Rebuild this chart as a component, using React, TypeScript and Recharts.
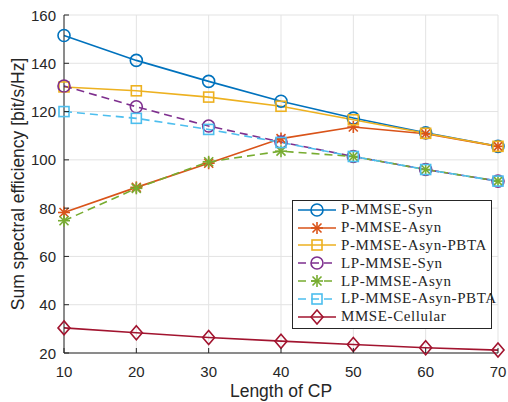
import React from "react";
import {
  LineChart,
  Line,
  XAxis,
  YAxis,
  CartesianGrid,
  Legend,
} from "recharts";

const cpLengths = [10, 20, 30, 40, 50, 60, 70];
const yTicks = [20, 40, 60, 80, 100, 120, 140, 160];

const pMmseSyn = [151.5, 141.2, 132.5, 124.3, 117.3, 111.2, 105.6];
const pMmseAsyn = [78.2, 88.6, 98.6, 108.8, 113.6, 110.8, 105.6];
const pMmsePbta = [130.2, 128.6, 126.0, 122.2, 116.6, 111.0, 105.6];
const lpMmseSyn = [130.6, 122.0, 114.0, 107.4, 101.4, 96.0, 91.2];
const lpMmseAsyn = [74.8, 88.2, 99.2, 103.6, 101.4, 96.0, 91.2];
const lpMmsePbta = [120.0, 117.2, 112.6, 107.2, 101.4, 96.0, 91.2];
const mmseCellular = [30.4, 28.4, 26.4, 24.9, 23.5, 22.2, 21.2];

type Marker = "circle" | "star" | "square" | "diamond";

const series = [
  { key: "pSyn", name: "P-MMSE-Syn", values: pMmseSyn, color: "#0072BD", dashed: false, marker: "circle" as Marker },
  { key: "pAsyn", name: "P-MMSE-Asyn", values: pMmseAsyn, color: "#D95319", dashed: false, marker: "star" as Marker },
  { key: "pPbta", name: "P-MMSE-Asyn-PBTA", values: pMmsePbta, color: "#EDB120", dashed: false, marker: "square" as Marker },
  { key: "lpSyn", name: "LP-MMSE-Syn", values: lpMmseSyn, color: "#7E2F8E", dashed: true, marker: "circle" as Marker },
  { key: "lpAsyn", name: "LP-MMSE-Asyn", values: lpMmseAsyn, color: "#77AC30", dashed: true, marker: "star" as Marker },
  { key: "lpPbta", name: "LP-MMSE-Asyn-PBTA", values: lpMmsePbta, color: "#4DBEEE", dashed: true, marker: "square" as Marker },
  { key: "cell", name: "MMSE-Cellular", values: mmseCellular, color: "#A2142F", dashed: false, marker: "diamond" as Marker },
];

const data = cpLengths.map((cp, i) => {
  const row: Record<string, number> = { cp };
  series.forEach((s) => (row[s.key] = s.values[i]));
  return row;
});

const AXIS = "#262626";
const SANS = "'Liberation Sans', Arial, sans-serif";
const SERIF = "'Liberation Serif', 'DejaVu Serif', serif";

function MarkerShape({ cx, cy, shape, color }: { cx: number; cy: number; shape: Marker; color: string }) {
  const r = 6;
  if (shape === "circle")
    return <circle cx={cx} cy={cy} r={r} fill="none" stroke={color} strokeWidth={1.6} />;
  if (shape === "square")
    return <rect x={cx - 5} y={cy - 5} width={10} height={10} fill="none" stroke={color} strokeWidth={1.6} />;
  if (shape === "diamond")
    return (
      <path
        d={`M${cx},${cy - 7} L${cx + 6},${cy} L${cx},${cy + 7} L${cx - 6},${cy} Z`}
        fill="none"
        stroke={color}
        strokeWidth={1.6}
      />
    );
  const d = 4.5;
  return (
    <g stroke={color} strokeWidth={1.6}>
      <line x1={cx - r} y1={cy} x2={cx + r} y2={cy} />
      <line x1={cx} y1={cy - r} x2={cx} y2={cy + r} />
      <line x1={cx - d} y1={cy - d} x2={cx + d} y2={cy + d} />
      <line x1={cx - d} y1={cy + d} x2={cx + d} y2={cy - d} />
    </g>
  );
}

const makeDot = (shape: Marker, color: string) => (props: any) => (
  <MarkerShape key={`${props.dataKey}-${props.index}`} cx={props.cx} cy={props.cy} shape={shape} color={color} />
);

// MATLAB style: labels outside, ticks pointing into the plot
const XTick = (props: any) => {
  const { x, y, payload } = props;
  return (
    <g>
      <line x1={x} y1={y} x2={x} y2={y - 5} stroke={AXIS} />
      <text x={x} y={y + 24} textAnchor="middle" fill={AXIS} fontSize={15} fontFamily={SANS}>
        {payload.value}
      </text>
    </g>
  );
};

const YTick = (props: any) => {
  const { x, y, payload } = props;
  return (
    <g>
      <line x1={x} y1={y} x2={x + 5} y2={y} stroke={AXIS} />
      <text x={x - 8} y={y + 5.5} textAnchor="end" fill={AXIS} fontSize={15} fontFamily={SANS}>
        {payload.value}
      </text>
    </g>
  );
};

const XLabel = (props: any) => {
  const vb = props.viewBox;
  const cx = vb.x + vb.width / 2;
  return (
    <text x={cx} y={397} textAnchor="middle" fill={AXIS} fontSize={17.5} fontFamily={SANS}>
      Length of CP
    </text>
  );
};

const YLabel = (props: any) => {
  const vb = props.viewBox;
  const cx = 18;
  const cy = vb.y + vb.height / 2;
  return (
    <text
      x={cx}
      y={cy}
      transform={`rotate(-90 ${cx} ${cy})`}
      textAnchor="middle"
      dominantBaseline="central"
      fill={AXIS}
      fontSize={17.5}
      fontFamily={SANS}
    >
      Sum spectral efficiency [bit/s/Hz]
    </text>
  );
};

const renderLegend = () => (
  <div
    style={{
      width: 194,
      border: `1px solid ${AXIS}`,
      background: "#fff",
      padding: "0 0 2px 4px",
      fontFamily: SERIF,
      fontSize: 15,
      letterSpacing: 0.6,
      color: AXIS,
      whiteSpace: "nowrap",
    }}
  >
    {series.map((s) => (
      <div key={s.key} style={{ display: "flex", alignItems: "center", height: 17.8 }}>
        <svg width={40} height={16} style={{ marginRight: 4, flexShrink: 0 }}>
          <line
            x1={1}
            y1={8}
            x2={39}
            y2={8}
            stroke={s.color}
            strokeWidth={1.6}
            strokeDasharray={s.dashed ? "8 5" : undefined}
          />
          <MarkerShape cx={20} cy={8} shape={s.marker} color={s.color} />
        </svg>
        <span>{s.name}</span>
      </div>
    ))}
  </div>
);

export default function App() {
  return (
    <div style={{ position: "absolute", left: 0, top: 0, width: 508, height: 402, background: "#fff" }}>
      <LineChart width={508} height={402} data={data} margin={{ top: 15, right: 10, bottom: 24, left: 14 }}>
        <CartesianGrid stroke="#e3e3e3" strokeWidth={1} />
        <XAxis
          dataKey="cp"
          type="number"
          domain={[10, 70]}
          ticks={cpLengths}
          stroke={AXIS}
          tickLine={false}
          tickSize={0}
          tickMargin={0}
          tick={<XTick />}
          height={25}
          label={<XLabel />}
        />
        <XAxis
          xAxisId="top"
          dataKey="cp"
          type="number"
          orientation="top"
          domain={[10, 70]}
          ticks={cpLengths}
          stroke={AXIS}
          mirror
          height={0}
          tickSize={5}
          tickFormatter={() => ""}
        />
        <YAxis
          type="number"
          domain={[20, 160]}
          ticks={yTicks}
          stroke={AXIS}
          tickLine={false}
          tickSize={0}
          tickMargin={0}
          tick={<YTick />}
          width={50}
          label={<YLabel />}
        />
        <YAxis
          yAxisId="right"
          orientation="right"
          type="number"
          domain={[20, 160]}
          ticks={yTicks}
          stroke={AXIS}
          mirror
          width={0}
          tickSize={5}
          tickFormatter={() => ""}
        />
        <Legend
          content={renderLegend}
          layout="vertical"
          align="center"
          verticalAlign="middle"
          wrapperStyle={{ left: 292, top: 200, width: "auto", bottom: "auto", right: "auto" }}
        />
        {series.map((s) => (
          <Line
            key={s.key}
            dataKey={s.key}
            name={s.name}
            type="linear"
            stroke={s.color}
            strokeWidth={1.6}
            strokeDasharray={s.dashed ? "8 5" : undefined}
            dot={makeDot(s.marker, s.color)}
            activeDot={false}
            isAnimationActive={false}
          />
        ))}
      </LineChart>
    </div>
  );
}
